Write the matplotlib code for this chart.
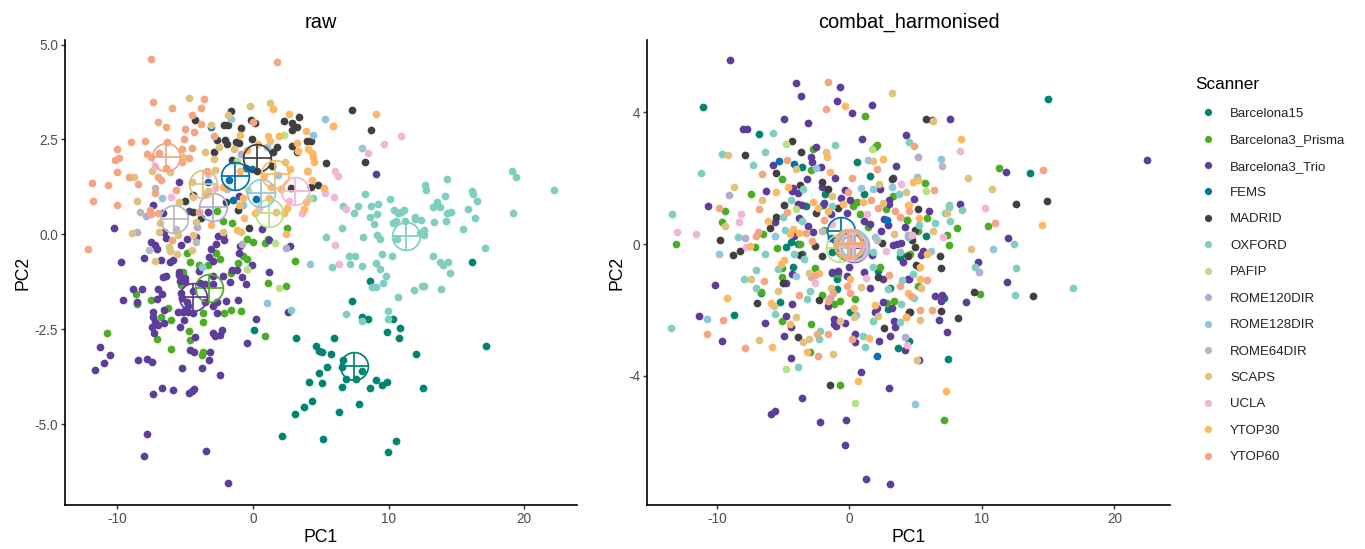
import matplotlib
matplotlib.use("Agg")
import matplotlib.pyplot as plt
from matplotlib.lines import Line2D

plt.rcParams['font.family'] = ['Liberation Sans', 'DejaVu Sans']
plt.rcParams['axes.unicode_minus'] = False

scanners = ["Barcelona15", "Barcelona3_Prisma", "Barcelona3_Trio", "FEMS", "MADRID", "OXFORD", "PAFIP",
            "ROME120DIR", "ROME128DIR", "ROME64DIR", "SCAPS", "UCLA", "YTOP30", "YTOP60"]
colours = ["#018571", "#4DAC26", "#5E3C99", "#0571B0", "#404040", "#80CDC1", "#B8E186",
           "#B2ABD2", "#92C5DE", "#BABABA", "#DFC27D", "#F1B6DA", "#FDB863", "#F4A582"]

raw_barcelona15 = [(.07,-2.53),(3.15,-2.74),(2.14,-5.3),(3.1,-4.72),(8.6,-1.22),(16.12,-.73),(7.3,-1.75),(8.01,-2.17),(8.48,-2.23),(10.3,-2.24),(10.81,-2.47),(9.9,-2.58),(10.79,-2.72),(5.95,-2.74),(4.67,-2.94),(4.84,-3.08),(5.06,-3.11),(5.72,-3.16),(12.04,-3.14),(17.18,-2.95),(6.61,-3.32),(6.59,-3.5),(5.48,-3.5),(8.06,-3.61),(4.84,-3.66),(4.1,-3.88),(5.09,-3.91),(6.88,-3.8),(7.62,-3.81),(9.04,-3.83),(9.85,-3.9),(9.53,-3.98),(6.56,-4.03),(8.62,-4.05),(12.56,-4.06),(4.37,-4.39),(3.78,-4.55),(7.79,-4.48),(6.31,-4.68),(5.16,-5.39),(10.52,-5.45),(9.98,-5.74)]
raw_prisma = [(-2.68,.62),(-2.21,.34),(-1.57,.29),(-.44,-.11),(-.02,-.21),(.88,-.23),(1.13,-.13),(2.53,.16),(-2.75,-.5),(-4.89,-.48),(-4.67,-.73),(-2.46,-.65),(-4.0,-.81),(-1.13,-.75),(-.76,-.58),(-.42,-.66),(3.12,-.71),(1.13,-1.29),(2.41,-1.36),(-8.62,-1.57),(-8.53,-1.83),(-7.54,-1.72),(-6.24,-1.94),(-6.81,-2.19),(-6.04,-2.25),(-3.66,-2.06),(-3.71,-2.31),(-2.11,-2.06),(-1.6,-1.98),(-.91,-2.03),(-10.76,-2.59),(-7.1,-2.76),(-4.74,-2.55),(-4.62,-2.78),(-6.07,-3.03),(-3.71,-3.1),(-3.78,-3.19),(.88,-2.67),(-1.65,-1.02),(-5.13,-.98),(-3.34,-.8),(-5.31,-1.33)]
raw_trio = [(-5.43,1.37),(-7.4,.77),(-6.61,.56),(-10.22,.16),(-6.56,.05),(-6.41,-.1),(-7.54,-.21),(-7.22,-.29),(-7.05,-.38),(-4.89,-.13),(-4.2,-.07),(-5.31,-.28),(-2.56,-.04),(-2.24,-.03),(-2.14,-.14),(-2.73,-.26),(-3.1,-.38),(-.96,-.32),(-1.0,-.48),(1.2,-.14),(.64,.14),(2.73,-.32),(-9.73,-.72),(-8.03,-.63),(-6.78,-.67),(-6.12,-.73),(-5.87,-.67),(-3.27,-.6),(-2.92,-.69),(-.05,-.82),(-1.03,1.0),(-3.29,.6),(-4.69,.62),(1.18,-1.0),(-3.98,-.96),(-5.45,-1.0),(-5.45,-1.07),(-6.41,-1.09),(-6.61,-1.13),(-5.01,-1.16),(-5.38,-1.23),(-5.01,-1.24),(-2.19,-1.09),(-1.52,-.95),(-1.2,-.95),(-1.7,-1.25),(-.79,-1.13),(-.49,-1.3),(-8.82,-1.43),(-8.16,-1.43),(-7.0,-1.44),(-6.73,-1.57),(-9.56,-1.73),(-8.57,-1.77),(-7.1,-1.69),(-5.31,-1.55),(-5.26,-1.68),(-4.4,-1.5),(-3.91,-1.29),(-3.54,-1.3),(-2.97,-1.32),(-2.92,-1.11),(-4.89,-1.77),(-4.82,-1.88),(-5.01,-1.99),(-5.5,-2.04),(-5.18,-2.05),(-4.82,-2.05),(-4.4,-2.06),(-3.54,-1.77),(-2.92,-1.88),(-2.68,-1.77),(-1.99,-1.76),(-1.13,-1.74),(-2.63,-2.08),(-6.54,-2.0),(-7.4,-2.04),(-7.35,-2.17),(-7.22,-2.3),(-6.98,-2.38),(-7.44,-2.43),(-6.54,-2.34),(-7.27,-2.61),(-5.09,-2.25),(-5.36,-2.43),(-4.28,-2.7),(-2.92,-2.6),(-2.8,-2.67),(-2.43,-2.64),(-2.31,-2.52),(.22,-2.24),(-.47,-2.87),(2.56,-2.04),(-11.3,-2.98),(-10.54,-3.17),(-10.98,-3.4),(-11.62,-3.58),(-8.45,-3.3),(-7.79,-3.29),(-7.42,-3.35),(-4.64,-3.05),(-4.32,-3.11),(-3.19,-3.09),(-3.24,-3.3),(-5.23,-3.51),(-3.78,-3.53),(-2.43,-3.71),(-7.37,-4.2),(-6.73,-4.06),(-5.92,-4.1),(-4.69,-4.19),(-4.52,-4.12),(-4.35,-4.07),(-7.84,-5.25),(-8.01,-5.84),(-3.49,-5.71),(-1.82,-6.56),(9.04,1.58)]
raw_fems = [(-3.1,2.82),(-3.34,1.37),(-1.77,1.42),(-1.45,.91),(.22,.93),(-.5,1.75),(-.1,1.72)]
raw_madrid = [(-1.62,3.26),(-4.25,3.02),(-2.11,2.87),(-1.82,2.89),(-.91,2.81),(-.12,3.01),(.15,2.93),(2.31,2.98),(3.37,3.1),(2.9,2.93),(3.22,2.82),(2.9,2.74),(-2.68,2.49),(-2.06,2.49),(-1.94,2.38),(-1.25,2.42),(-1.0,2.4),(-.05,2.52),(-2.85,2.17),(1.79,2.31),(1.5,2.18),(2.9,2.33),(3.22,2.17),(3.96,2.47),(4.25,2.47),(-1.57,1.95),(.27,1.66),(1.38,1.79),(5.38,1.87),(2.83,1.22),(4.25,1.26),(4.82,1.29),(-4.99,.89),(-4.45,1.04),(-1.99,.84),(-1.13,.63),(-4.4,.6),(-3.83,.43),(-.32,.17),(7.3,3.27),(8.72,2.74),(8.26,1.91)]
raw_oxford = [(19.09,1.66),(19.39,1.51),(22.21,1.16),(19.19,.57),(14.32,1.47),(12.68,1.29),(12.75,1.16),(14.15,1.02),(16.17,1.15),(16.19,1.07),(16.49,.88),(15.87,.66),(16.39,.42),(15.45,.14),(17.13,-.37),(13.54,.86),(13.29,.73),(13.81,.72),(14.28,.56),(14.59,.58),(14.2,.35),(13.37,.32),(8.23,1.05),(10.07,.92),(6.64,.75),(7.77,.74),(8.67,.76),(9.21,.79),(7.42,.57),(9.16,.53),(8.65,.45),(10.39,.64),(10.71,.56),(11.16,.64),(10.93,.6),(10.52,.36),(10.3,.29),(11.23,.36),(11.92,.45),(11.97,.4),(12.39,.38),(8.92,.28),(6.56,.17),(5.4,-.07),(8.08,-.07),(9.16,-.01),(9.36,-.13),(12.6,.12),(12.31,.03),(12.63,-.02),(10.62,-.12),(9.49,-.51),(10.27,-.58),(13.25,-.58),(13.79,-.72),(14.03,-.81),(14.35,-.74),(14.52,-1.01),(7.08,-.58),(7.54,-.57),(7.13,-.77),(5.85,-.86),(8.04,-.83),(9.07,-.75),(9.36,-.91),(9.78,-1.1),(9.61,-1.27),(8.8,-1.38),(9.09,-1.38),(11.87,-1.47),(12.43,-1.35),(12.58,-1.36),(13.88,-1.43),(10.69,-1.65),(9.95,-2.03),(6.88,-2.11),(9.98,-2.23),(8.0,-2.29),(4.4,.97),(2.83,-1.99)]
raw_pafip = [(2.29,2.63),(-1.2,1.92),(-.34,1.17),(4.13,.97),(1.62,-.23),(-.47,-.92),(1.89,-1.42),(-.42,-.9)]
raw_rome120 = [(-.88,2.12),(-7.91,.49),(-8.57,.06),(-4.15,.19),(-.79,-.25),(2.43,-.36)]
raw_rome128 = [(5.33,3.04),(4.45,2.63),(8.06,2.27),(-1.65,3.04),(1.84,1.57),(-6.68,.96),(-.76,.78),(1.0,2.31),(-3.78,-.85),(4.18,-.78),(1.0,-1.82)]
raw_rome64 = [(-7.25,1.22),(-8.33,.58),(-5.7,.14),(-4.2,-.2),(-7.64,-.41),(-1.9,1.2)]
raw_scaps = [(-4.74,3.59),(-.2,3.38),(1.23,3.46),(-1.87,3.15),(-3.1,2.89),(-2.5,2.31),(-3.51,2.17),(-2.85,1.98),(-1.43,2.26),(-5.13,2.03),(-7.44,1.66),(-6.12,1.65),(-8.8,1.52),(-2.78,1.7),(-4.5,1.37),(-3.29,1.13),(-3.56,1.07),(-4.42,.98),(-8.57,.87),(-5.48,.84),(-8.94,.03),(-6.86,.29),(-6.93,.06),(-5.53,-.02),(-4.23,.33),(-4.45,-.01),(-6.19,-.34),(-6.12,-.45),(-5.63,-.51),(-4.47,-.41),(-7.2,-.69),(-2.19,.05),(-.88,.05),(2.33,1.9)]
raw_ucla = [(-7.2,1.81),(-6.07,.99),(-3.34,1.58),(10.91,2.59),(9.68,2.37),(8.5,2.14),(4.08,1.66),(6.07,1.66),(6.24,1.55),(5.28,1.09),(6.0,.99),(6.88,.66),(6.02,-.28),(6.34,-.77),(3.59,.56),(.44,.67),(2.68,.87),(-2.8,1.22)]
raw_ytop30 = [(1.45,3.3),(2.68,3.18),(5.92,2.85),(3.91,2.73),(-.96,2.63),(1.13,2.58),(1.25,2.45),(1.94,2.58),(3.22,2.4),(3.32,2.2),(4.03,2.26),(4.32,2.14),(4.45,2.03),(4.5,1.9),(.39,2.38),(-.47,2.23),(2.73,1.72),(3.96,1.67),(4.37,1.42),(5.23,1.21),(3.93,.85),(3.78,.66),(2.53,.69),(2.29,.57),(1.7,.6),(.15,.57),(-.64,.44),(-3.1,.25),(-1.03,.78),(-1.2,.12),(2.46,0),(-2.19,1.26),(-.96,1.66),(1.3,1.26),(-.76,.95),(9.09,3.16),(5.87,2.86),(1.2,.95),(.8,1.55),(2.1,1.2)]
raw_ytop60 = [(-7.49,4.61),(1.79,4.54),(-7.37,3.49),(-6.0,3.32),(-3.64,3.56),(-3.83,3.33),(-4.5,3.15),(-6.98,2.95),(-6.44,2.83),(-5.01,2.77),(-4.32,2.69),(-3.81,2.9),(-7.96,2.45),(-9.02,2.43),(-6.31,2.44),(-5.06,2.5),(-4.52,2.28),(-10.02,2.24),(-9.9,2.02),(-10.2,1.96),(-7.79,2.12),(-7.49,2.03),(-6.95,2.13),(-5.26,2.24),(-4.74,2.02),(-5.23,1.91),(-10.05,1.64),(-9.12,1.52),(-8.48,1.33),(-11.87,1.36),(-10.66,1.29),(-11.79,.89),(-10.05,.78),(-7.03,1.5),(-6.76,1.44),(-6.41,1.75),(-5.65,1.16),(-7.25,1.08),(-7.6,.63),(-7.54,.54),(-6.98,.56),(-12.19,-.38),(-6.0,-.14),(-2.85,2.58),(-3.37,1.67),(-3.96,.59),(-.02,2.95)]

combat_barcelona15 = [(-11.03,4.16),(-6.8,3.33),(-3.56,2.35),(.54,2.48),(1.55,2.08),(1.09,1.52),(-1.87,1.52),(-1.97,1.19),(-3.31,1.17),(-4.24,.4),(-4.41,.07),(-4.82,-.1),(-3.86,0),(-3.56,-.3),(-1.35,-.25),(3.86,-.33),(-4.29,-.69),(-1.35,-.87),(-.97,-1.07),(2.15,-.81),(-.97,-1.38),(3.08,-1.34),(-5.27,-1.77),(-6.7,-1.5),(-8.72,-2.15),(.01,-2.08),(2.91,-1.98),(3.69,-3.16),(4.52,-2.94),(14.98,4.41),(13.6,2.15),(5.75,.24),(5.22,-.69),(3.81,-.39),(7.4,-3.48),(7.1,-1.65)]
combat_prisma = [(1.17,3.88),(2.05,3.01),(1.92,2.94),(-2.78,2.89),(-2.88,2.24),(-5.09,1.98),(-7.46,1.52),(-9.42,1.01),(-9.6,.68),(-6.5,.32),(-13.09,.01),(-7.16,-.09),(-5.5,-.12),(-3.74,.01),(-1.92,.43),(.29,1.17),(.54,1.27),(.79,.91),(1.42,.53),(2.73,1.06),(3.31,1.47),(4.31,.73),(4.44,-.33),(-5.12,-.72),(-2.61,-.72),(2.3,-.69),(-5.09,-.99),(-6.65,-1.47),(-.84,-.91),(-2.1,-1.54),(-.72,-1.72),(-1.14,-1.83),(.39,-1.66),(3.37,-1.72),(2.8,-1.8),(-5.06,-2.33),(-2.91,-2.44),(-3.0,-3.29),(-.69,-4.29),(11.26,2.32),(5.7,1.84),(5.85,.79),(4.34,.74),(5.2,.4),(8.09,.48),(10.45,.55),(7.36,.28),(7.53,-.02),(4.57,-.31),(5.14,-1.28),(9.82,-1.52),(7.16,-5.35)]
combat_trio = [(-8.99,5.6),(-4.04,4.88),(-.69,4.77),(-3.66,4.49),(-.94,4.36),(1.72,4.22),(.16,3.98),(-4.92,3.8),(-3.11,3.67),(-8.06,3.51),(-7.71,3.5),(4.29,3.31),(.97,3.2),(-2.55,2.94),(-2.88,2.63),(-2.83,2.5),(-5.77,2.39),(-2.15,2.33),(3.48,2.37),(-3.23,1.98),(-1.09,2.0),(3.26,2.01),(-6.3,1.6),(-4.24,1.71),(-4.36,1.62),(-3.86,1.55),(-2.05,1.74),(-.34,1.64),(2.33,1.68),(-10.68,1.17),(-3.91,1.23),(-3.56,1.2),(-1.92,1.26),(-.67,1.41),(.04,1.33),(2.96,1.33),(3.01,1.23),(-1.42,.91),(-.21,.93),(-5.62,.68),(-3.79,.78),(-3.16,.55),(-4.16,.24),(-2.75,.37),(1.09,.7),(1.55,.61),(2.63,.76),(2.91,.58),(2.4,.4),(4.16,.52),(3.26,-.02),(3.56,0),(3.86,.02),(1.7,-.33),(4.04,-.54),(-10.18,-1.25),(-4.79,-1.19),(-4.34,-.92),(-1.35,-.86),(-.84,-.81),(-.06,-.71),(-.16,-.97),(1.09,-.84),(2.5,-1.06),(1.55,-1.35),(4.44,-1.06),(2.56,-1.75),(2.05,-1.95),(1.92,-2.08),(3.18,-1.93),(-1.63,-1.87),(-4.36,-1.81),(-11.33,-2.2),(-6.35,-2.39),(-4.82,-2.18),(-4.42,-2.51),(-1.14,-2.28),(-1.17,-2.43),(-1.02,-2.48),(-.31,-2.39),(3.38,-2.33),(3.46,-2.51),(-9.6,-2.94),(-4.94,-2.79),(.42,-2.74),(.42,-2.99),(2.2,-2.95),(3.08,-2.79),(4.21,-3.21),(-4.39,-3.47),(.87,-3.88),(2.96,-4.38),(-3.61,-4.67),(-5.62,-5.06),(-5.9,-5.17),(-2.25,-5.4),(-.24,-5.35),(-.36,-6.12),(1.25,-7.13),(3.08,-7.28),(6.25,3.77),(7.56,3.8),(22.48,2.54),(11.81,2.2),(8.31,1.21),(4.84,1.37),(5.97,1.01),(11.99,.19),(9.72,-.56),(5.57,-.2),(5.4,-.33),(11.89,-1.14),(4.47,-1.07),(6.43,-1.57),(6.98,-1.55),(6.91,-1.72),(8.79,-1.75),(6.73,-2.32),(7.36,-2.66),(5.22,-3.51)]
combat_fems = [(-5.3,2.52),(-4.19,2.44),(2.8,.72),(-1.4,.17),(2.05,-3.4)]
combat_madrid = [(-4.37,3.14),(-3.69,2.81),(-7.86,2.72),(-5.55,2.15),(-2.05,1.89),(-3.76,1.79),(-1.6,1.67),(-4.92,1.2),(-2.53,.95),(-.84,1.08),(-5.57,.81),(-6.03,.48),(-9.77,.12),(-8.29,-.2),(-8.77,-.33),(-2.6,-.05),(-2.1,-.36),(2.45,.04),(3.18,1.97),(-3.74,-.33),(-5.05,-1.17),(-7.01,-1.78),(-2.33,-1.7),(2.13,-.99),(4.52,-2.06),(2.63,-2.55),(-3.89,-2.84),(-1.45,-4.29),(5.75,3.8),(5.19,1.07),(12.59,1.23),(14.93,1.32),(4.94,.43),(4.71,.12),(4.94,-.08),(4.44,-.35),(6.81,-.36),(6.93,-.72),(5.0,-.63),(9.39,-1.47),(13.85,-1.58),(6.88,-2.03),(8.16,-2.26),(4.59,-2.06)]
combat_oxford = [(-5.8,3.36),(-9.6,2.75),(-6.38,2.79),(-1.07,3.01),(-7.28,2.4),(-11.18,2.16),(-3.48,1.68),(-4.42,1.34),(-1.3,1.17),(-5.05,.83),(-3.56,.7),(-4.89,.43),(-8.41,.22),(-6.38,-.29),(-4.19,-.31),(-3.43,-.45),(-13.4,.91),(4.52,3.11),(3.74,1.52),(3.81,-.23),(1.75,-.25),(1.77,-.69),(-7.06,-.79),(-7.96,-1.07),(-7.08,-1.33),(-5.36,-.77),(-2.98,-1.44),(-3.18,-1.68),(-5.62,-2.14),(-13.5,-2.56),(-2.23,-2.63),(-2.3,-2.89),(1.05,-2.8),(1.17,-3.13),(1.76,-2.35),(-3.92,-3.74),(3.86,-1.82),(2.88,-1.36),(3.94,-1.09),(3.81,-2.36),(5.12,2.03),(7.53,1.19),(7.53,1.13),(8.47,1.04),(7.21,.93),(7.58,.7),(6.45,.65),(5.27,.57),(4.41,.22),(12.44,-.01),(9.5,-.7),(12.57,-.74),(4.77,-.92),(12.47,-1.54),(16.9,-1.34),(4.89,-1.64)]
combat_pafip = [(-4.79,3.05),(1.7,2.88),(-4.06,1.05),(-4.82,-3.79),(.39,-4.83),(5.75,1.62)]
combat_rome120 = [(-9.12,1.5),(-7.86,.17),(5.14,2.64),(9.75,-.85),(4.19,-2.82),(-1.47,-1.63),(4.44,.27)]
combat_rome128 = [(-9.85,-.3),(-5.62,.25),(1.42,2.55),(.89,1.69),(1.77,1.66),(3.21,1.74),(-2.53,2.3),(1.92,.22),(-10.75,-2.29),(-4.06,-.97),(.47,-2.16),(6.88,2.59),(6.13,-.2),(10.81,-.14),(4.94,-4.87)]
combat_rome64 = [(7.0,2.37),(-2.93,-1.01),(-2.1,.41),(2.05,.12)]
combat_scaps = [(3.18,4.6),(-9.17,2.72),(-1.77,2.81),(1.76,2.52),(-4.03,2.28),(-8.74,1.73),(-6.63,1.35),(-1.3,1.47),(-9.37,.54),(2.23,1.82),(4.26,1.57),(3.36,.3),(2.55,1.24),(-7.43,-1.06),(-5.37,-1.42),(-3.03,-.89),(-5.69,-1.87),(-4.06,-2.23),(-3.08,-2.88),(-3.51,-2.97),(-6.81,-2.91),(-1.24,-3.34),(.84,-1.32),(-1.4,-1.33),(2.15,-2.2),(.36,-2.22),(-.72,-2.34),(8.97,2.01),(10.78,1.66),(7.33,.94),(6.3,.4),(9.14,-.16),(5.37,-1.34),(5.32,-2.32),(5.07,-3.53),(6.3,3.75)]
combat_ucla = [(-8.19,.92),(-8.34,.66),(-13.05,.37),(-11.56,.3),(-7.81,-.08),(3.89,1.81),(1.35,.9),(2.75,-.2),(-1.35,.6),(-2.63,-1.18),(1.22,-1.04),(4.31,-3.07),(8.37,2.82),(10.23,1.1),(7.08,.22),(4.69,.27)]
combat_ytop30 = [(-.36,4.2),(-1.67,2.65),(2.53,2.58),(-1.47,2.2),(-5.55,1.59),(-4.62,1.72),(-2.73,1.29),(-6.13,.71),(-2.35,1.08),(-1.6,1.01),(-.52,1.22),(1.04,1.28),(-4.24,.46),(-3.81,.34),(-7.51,-.06),(-4.49,.32),(-4.92,-.47),(-5.17,-.61),(-2.28,-.87),(.04,-1.06),(-9.27,-1.65),(-5.95,-1.8),(-4.49,-2.43),(-3.23,-3.29),(-5.87,-3.14),(1.45,-2.85),(.34,-1.93),(.62,-4.15),(1.9,-1.85),(4.27,-2.22),(4.44,-1.5),(8.39,3.18),(4.82,1.89),(5.2,1.94),(4.46,1.18),(5.22,.79),(14.53,.58),(5.83,-.31),(5.32,-1.07),(4.26,-2.23),(7.31,-4.47),(5.32,-.7),(4.44,1.19)]
combat_ytop60 = [(-1.65,4.93),(-1.77,4.11),(-4.72,2.55),(-6.6,2.12),(.21,2.0),(2.05,2.29),(-9.82,1.08),(-6.8,1.05),(-4.72,.98),(1.62,1.34),(2.18,1.08),(3.46,1.01),(3.81,.81),(-1.92,.73),(-6.93,.37),(-7.06,.25),(-3.28,.34),(-2.8,.09),(-.09,1.59),(-6.45,-1.12),(-2.63,-.94),(-3.79,-1.56),(-.21,-1.28),(.04,-1.48),(-1.27,-1.5),(-1.6,-1.72),(3.01,-.94),(3.81,-1.28),(-9.55,-2.32),(-10.73,-2.72),(-7.88,-3.16),(-2.48,-2.72),(-1.65,-2.72),(-2.35,-3.41),(.16,-2.89),(4.84,2.97),(14.63,2.24),(6.38,1.64),(4.52,1.0),(10.98,.64),(5.87,-1.08),(5.32,-2.01),(6.25,-2.01),(4.67,-1.57)]

raw_centre_pc1 = [7.44, -3.24, -4.45, -1.33, .32, 11.3, 1.15, -2.95, .57, -5.8, -3.71, 3.1, 1.6, -6.41]
raw_centre_pc2 = [-3.47, -1.41, -1.66, 1.55, 2.0, -.04, .57, .71, 1.1, .41, 1.32, 1.14, 1.59, 2.04]
combat_centre_pc1 = [.1, -.1, .35, -.64, .2, .45, -.75, .4, .3, .1, 0, .3, -.09, -.1]
combat_centre_pc2 = [-.05, -.05, -.12, .41, 0, -.02, -.13, -.08, .02, .02, -.02, -.08, .02, 0]

raw_series = [raw_barcelona15, raw_prisma, raw_trio, raw_fems, raw_madrid, raw_oxford, raw_pafip, raw_rome120,
              raw_rome128, raw_rome64, raw_scaps, raw_ucla, raw_ytop30, raw_ytop60]
combat_series = [combat_barcelona15, combat_prisma, combat_trio, combat_fems, combat_madrid, combat_oxford, combat_pafip,
                 combat_rome120, combat_rome128, combat_rome64, combat_scaps, combat_ucla, combat_ytop30, combat_ytop60]

W, H = 1365, 549
fig = plt.figure(figsize=(W / 100, H / 100), dpi=100)


def make_axes(left, right, top, bottom):
    return fig.add_axes([left / W, (H - bottom) / H, (right - left) / W, (bottom - top) / H])


def panel(ax, series, cx, cy, title, xlim, ylim, yticks, yfmt):
    for pts, c in zip(series, colours):
        ax.scatter([p[0] for p in pts], [p[1] for p in pts], s=31, color=c, linewidths=0, zorder=2)
    for x0, y0, c in zip(cx, cy, colours):
        ax.plot([x0], [y0], marker='o', ms=20, mfc='none', mec=c, mew=1.25, zorder=3)
        ax.plot([x0], [y0], marker='+', ms=20, mec=c, mew=1.25, zorder=3)
    ax.set_xlim(*xlim)
    ax.set_ylim(*ylim)
    ax.set_xticks([-10, 0, 10, 20])
    ax.set_yticks(yticks)
    ax.set_yticklabels([yfmt.format(v) for v in yticks])
    ax.tick_params(labelsize=9.8, labelcolor='#4d4d4d', color='#333333', length=3, width=1, pad=2)
    for s in ('top', 'right'):
        ax.spines[s].set_visible(False)
    for s in ('left', 'bottom'):
        ax.spines[s].set_linewidth(1.2)
    ax.set_title(title, fontsize=14.4, pad=9)
    ax.set_xlabel('PC1', fontsize=12.7, labelpad=2)
    ax.set_ylabel('PC2', fontsize=12.7, labelpad=2)


ax1 = make_axes(65, 577, 40, 505)
panel(ax1, raw_series, raw_centre_pc1, raw_centre_pc2, 'raw', (-13.85, 23.88), (-7.13, 5.12),
      [-5.0, -2.5, 0.0, 2.5, 5.0], '{:.1f}')
ax2 = make_axes(647, 1170, 40, 505)
panel(ax2, combat_series, combat_centre_pc1, combat_centre_pc2, 'combat_harmonised', (-15.28, 24.19), (-7.93, 6.2),
      [-4, 0, 4], '{:d}')

handles = [Line2D([], [], ls='none', marker='o', ms=5.2, mfc=c, mec='none') for c in colours]
leg = fig.legend(handles, scanners, title='Scanner', loc='upper left', bbox_to_anchor=(1190 / W, 1 - 72 / H),
                 frameon=False, fontsize=9.5, title_fontsize=12.3, labelspacing=1.075, handletextpad=0.65,
                 handlelength=2.0, borderpad=0.4, borderaxespad=0)
leg._legend_box.align = 'left'
leg._legend_box.sep += 0.8
for t in leg.get_texts():
    t.set_color('#222222')

fig.savefig('out.png', dpi=100)
